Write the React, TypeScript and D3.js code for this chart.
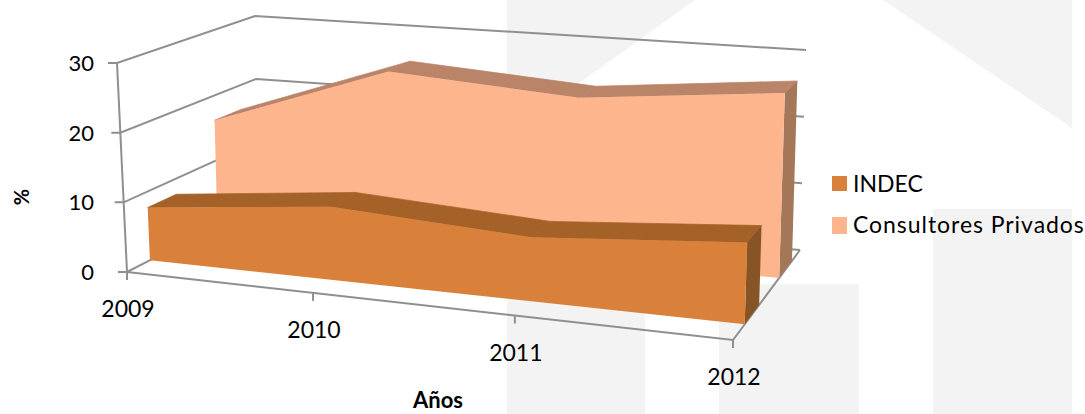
import React from "react";
import * as d3 from "d3";

const years = [2009, 2010, 2011, 2012];
const yearFractions = [0, 0.307, 0.64, 1];
const indec = [7.7, 10.4, 8.8, 10.9];
const consultores = [16.2, 25.6, 23.7, 26.5];
const valueTicks = [0, 10, 20, 30];

type P = [number, number];
// Corners of the 3D box as seen on screen
const floorFrontLeft: P = [127, 272];
const floorFrontRight: P = [733, 340];
const floorBackLeft: P = [258, 205];
const floorBackRight: P = [800, 250];
const topFrontLeft: P = [117, 63];
const topFrontRight: P = [740, 110];
const topBackLeft: P = [255, 16];
const topBackRight: P = [806, 50];

const uScale = d3.scaleLinear().domain(years).range(yearFractions);
const vScale = d3.scaleLinear().domain([0, 30]).range([0, 1]);
const mix = (a: P, b: P, t: number): P => [a[0] + (b[0] - a[0]) * t, a[1] + (b[1] - a[1]) * t];

function project(year: number, depth: number, value: number): P {
  const u = uScale(year);
  const v = vScale(value);
  const bottom = mix(mix(floorFrontLeft, floorFrontRight, u), mix(floorBackLeft, floorBackRight, u), depth);
  const top = mix(mix(topFrontLeft, topFrontRight, u), mix(topBackLeft, topBackRight, u), depth);
  return mix(bottom, top, v);
}

const poly = d3.line<P>().x((d) => d[0]).y((d) => d[1]);
const closed = (pts: P[]) => poly(pts) + "Z";

const GRID = "#8f8f8f";
const FONT = "Lato, Carlito, sans-serif";

function Series({ values, d0, d1, front, top, side }: { values: number[]; d0: number; d1: number; front: string; top: string; side: string }) {
  const first = years[0];
  const last = years[years.length - 1];
  const frontPts: P[] = [
    project(first, d0, 0),
    ...years.map((y, i) => project(y, d0, values[i])),
    project(last, d0, 0),
  ];
  return (
    <g>
      {years.slice(1).map((y, i) => (
        <path
          key={y}
          d={closed([
            project(years[i], d0, values[i]),
            project(years[i], d1, values[i]),
            project(y, d1, values[i + 1]),
            project(y, d0, values[i + 1]),
          ])}
          fill={top}
          stroke={top}
          strokeWidth={0.7}
        />
      ))}
      <path
        d={closed([
          project(last, d0, 0),
          project(last, d0, values[values.length - 1]),
          project(last, d1, values[values.length - 1]),
          project(last, d1, 0),
        ])}
        fill={side}
      />
      <path d={closed(frontPts)} fill={front} />
    </g>
  );
}

export default function App() {
  const w = 1085;
  const h = 414;
  const axisTop = project(2009, 0, 30);
  return (
    <svg width={w} height={h} style={{ position: "absolute", left: 0, top: 0, background: "#fff" }} fontFamily={FONT}>
      {/* watermark */}
      <g fill="#f3f3f3">
        <polygon points="507,0 695,0 507,135" />
        <rect x={507} y={134} width={138} height={280} />
        <rect x={719} y={284} width={140} height={130} />
        <rect x={933} y={209} width={139} height={205} />
        <polygon points="883,0 1072,0 1072,128" />
      </g>

      {/* walls */}
      <g stroke={GRID} strokeWidth={2} fill="none">
        {valueTicks.map((t) => {
          const a = project(2009, 0, t);
          const b = project(2009, 1, t);
          const c = project(2012, 1, t);
          const tickEnd: P = [a[0] - 9, a[1]];
          return <path key={t} d={poly([tickEnd, a, b, c])!} />;
        })}
        <path d={poly([project(2009, 0, 0), axisTop])!} />
        <path d={poly([project(2009, 0, 0), project(2012, 0, 0), project(2012, 1, 0)])!} />
        {years.map((y) => {
          const a = project(y, 0, 0);
          return <path key={y} d={poly([a, [a[0], a[1] + 8]])!} />;
        })}
      </g>

      <Series values={consultores} d0={0.69} d1={0.88} front="#fcb58c" top="#b98468" side="#a57759" />
      <Series values={indec} d0={0.175} d1={0.39} front="#d9813b" top="#a46229" side="#875425" />

      {/* value labels */}
      <g fontSize={22} textAnchor="end" fill="#000">
        {valueTicks.map((t) => {
          const a = project(2009, 0, t);
          return (
            <text key={t} x={94} y={a[1] + 8}>
              {t}
            </text>
          );
        })}
      </g>
      {/* year labels */}
      <g fontSize={23} textAnchor="middle" fill="#000">
        {years.map((y) => {
          const a = project(y, 0, 0);
          return (
            <text key={y} x={a[0] + 1} y={a[1] + 45}>
              {y}
            </text>
          );
        })}
      </g>

      <text x={438} y={408} fontSize={22} fontWeight={700} textAnchor="middle" fill="#000">
        Años
      </text>
      <text transform="translate(29,197) rotate(-90)" fontSize={20} fontWeight={700} textAnchor="middle" fill="#000">
        %
      </text>

      {/* legend */}
      <rect x={832} y={176} width={15} height={15} fill="#d9813b" />
      <text x={853} y={192} fontSize={23} fill="#000">
        INDEC
      </text>
      <rect x={832} y={217} width={15} height={17} fill="#fcb58c" />
      <text x={853} y={233} fontSize={23} fill="#000" letterSpacing={0.95}>
        Consultores Privados
      </text>
    </svg>
  );
}
